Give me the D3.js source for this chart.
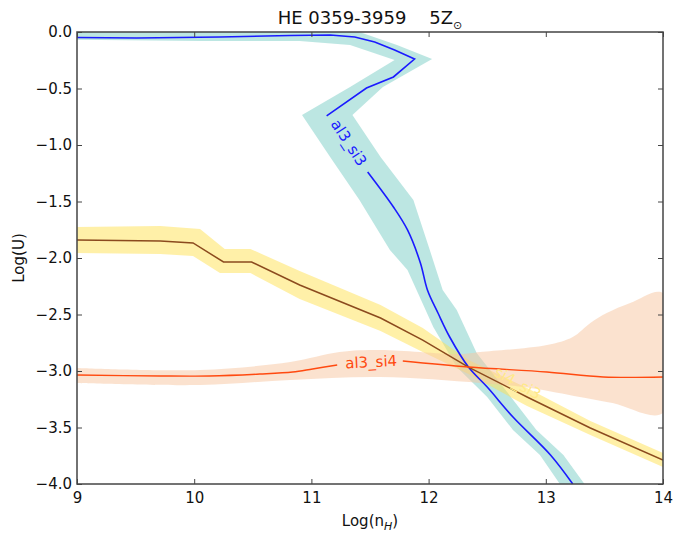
<!DOCTYPE html>
<html>
<head>
<meta charset="utf-8">
<script src="https://cdn.jsdelivr.net/npm/d3@7"></script>
<style>
    body { margin: 0; background: #fff; }
    text { font-family: "DejaVu Sans", sans-serif; }
</style>
</head>
<body>
<div id="chartholder"></div>
<script>
// al3_si3 contour (blue), the line is broken after index al3si3Gap for its label
var al3si3X = [9.00, 9.51, 10.22, 10.82, 11.16, 11.37, 11.54, 11.71, 11.88, 11.70, 11.47, 11.13,
               11.48, 11.70, 11.82, 11.93, 11.99, 12.08, 12.18, 12.34, 12.50, 12.72, 13.04, 13.23];
var al3si3Y = [-0.049, -0.053, -0.044, -0.031, -0.027, -0.044, -0.088, -0.159, -0.239, -0.398, -0.496, -0.743,
               -1.239, -1.549, -1.752, -2.044, -2.283, -2.487, -2.699, -2.965, -3.142, -3.407, -3.743, -4.0];
var al3si3Gap = 11;
// outline of the al3_si3 uncertainty band
var al3si3BandX = [9.00, 11.16, 11.44, 11.73, 12.03, 11.61, 11.35, 11.59, 11.87, 12.01, 12.12, 12.24, 12.41, 12.61,
                   12.92, 13.15, 13.33, 13.33, 13.12, 13.12, 12.95, 12.72, 12.50, 12.24, 12.04, 11.82, 11.67, 11.41,
                   11.16, 10.92, 11.33, 11.71, 11.33, 10.90, 10.05, 9.00];
var al3si3BandY = [0.05, 0.05, -0.01, -0.115, -0.239, -0.487, -0.735, -1.106, -1.487, -1.929, -2.283, -2.46, -2.84, -3.106,
                   -3.522, -3.743, -4.0, -4.1, -4.1, -4.0, -3.743, -3.522, -3.23, -2.965, -2.611, -2.106, -1.929, -1.487,
                   -1.106, -0.735, -0.487, -0.248, -0.115, -0.08, -0.08, -0.068];

// si4_si3 contour (brown line, yellow band)
var si4si3X = [9.00, 9.71, 9.99, 10.25, 10.49, 10.90, 11.59, 11.95, 12.34, 12.84, 13.38, 14.00];
var si4si3Y = [-1.841, -1.850, -1.867, -2.035, -2.035, -2.239, -2.531, -2.726, -2.965, -3.230, -3.504, -3.788];
var si4si3UpperX = [9.00, 9.71, 10.05, 10.26, 10.48, 10.90, 11.59, 11.95, 12.34, 12.84, 13.38, 14.00];
var si4si3UpperY = [-1.726, -1.717, -1.743, -1.920, -1.920, -2.115, -2.416, -2.619, -2.903, -3.150, -3.442, -3.726];
var si4si3LowerX = [9.00, 9.71, 9.99, 10.22, 10.48, 10.90, 11.59, 11.95, 12.34, 12.84, 13.38, 14.00];
var si4si3LowerY = [-1.956, -1.965, -1.982, -2.133, -2.133, -2.363, -2.646, -2.832, -3.027, -3.310, -3.566, -3.850];

// al3_si4 contour (orange), broken after index al3si4Gap for its label
var al3si4X = [9.00, 9.71, 10.13, 10.56, 10.84, 11.01, 11.22, 11.78, 12.34, 13.01, 13.49, 14.00];
var al3si4Y = [-3.035, -3.044, -3.044, -3.027, -3.009, -2.982, -2.947, -2.912, -2.965, -3.009, -3.053, -3.053];
var al3si4Gap = 6;
var al3si4UpperX = [9.00, 10.05, 10.82, 11.24, 11.59, 12.27, 12.44, 13.01, 13.23, 13.38, 13.52, 13.72, 14.00];
var al3si4UpperY = [-2.973, -2.991, -2.920, -2.832, -2.814, -2.850, -2.832, -2.770, -2.699, -2.575, -2.487, -2.398, -2.310];
var al3si4LowerX = [9.00, 10.05, 10.82, 11.59, 12.44, 12.87, 13.29, 13.57, 14.00];
var al3si4LowerY = [-3.106, -3.124, -3.080, -3.053, -3.106, -3.150, -3.230, -3.283, -3.372];

// inline contour labels: text, x, y, angle
var labelText = ['al3_si3', 'al3_si4', 'si4_si3'];
var labelX = [11.32, 11.51, 12.76];
var labelY = [-0.98, -2.92, -3.106];
var labelAngle = [57, -3, 29];
var labelColor = ['#1a1aff', '#ff4a10', '#ffe98a'];

var xTicks = [9, 10, 11, 12, 13, 14];
var yTicks = [0.0, -0.5, -1.0, -1.5, -2.0, -2.5, -3.0, -3.5, -4.0];

function zip(xs, ys) {
    return xs.map(function (x, i) { return [x, ys[i]]; });
}

function makeChart() {
    var margin = {top: 32, right: 14, bottom: 51, left: 77};
    var totalWidth = 677, totalHeight = 535;
    var width = totalWidth - margin.left - margin.right;
    var height = totalHeight - margin.top - margin.bottom;

    var svg = d3.select('#chartholder').append('svg')
        .attr('width', totalWidth)
        .attr('height', totalHeight);

    svg.append('defs').append('clipPath').attr('id', 'plotclip')
        .append('rect').attr('width', width).attr('height', height);

    var canvas = svg.append('g')
        .attr('transform', 'translate(' + margin.left + ',' + margin.top + ')');

    var xScale = d3.scaleLinear().domain([9, 14]).range([0, width]);
    var yScale = d3.scaleLinear().domain([-4, 0]).range([height, 0]);

    var line = d3.line()
        .x(function (d) { return xScale(d[0]); })
        .y(function (d) { return yScale(d[1]); });
    var smooth = d3.line()
        .x(function (d) { return xScale(d[0]); })
        .y(function (d) { return yScale(d[1]); })
        .curve(d3.curveCatmullRom.alpha(0.5));

    var plot = canvas.append('g').attr('clip-path', 'url(#plotclip)');

    // bands
    plot.append('path')
        .attr('d', line(zip(al3si3BandX, al3si3BandY)) + 'Z')
        .style('fill', '#79cdc5').style('fill-opacity', 0.5);
    plot.append('path')
        .attr('d', line(zip(si4si3UpperX, si4si3UpperY).concat(zip(si4si3LowerX, si4si3LowerY).reverse())) + 'Z')
        .style('fill', '#ffe151').style('fill-opacity', 0.5);
    plot.append('path')
        .attr('d', smooth(zip(al3si4UpperX, al3si4UpperY).concat(zip(al3si4LowerX, al3si4LowerY).reverse())) + 'Z')
        .style('fill', '#f7c59f').style('fill-opacity', 0.5);

    // lines
    var blue = zip(al3si3X, al3si3Y);
    plot.append('path').attr('d', line(blue.slice(0, al3si3Gap + 1)))
        .style('fill', 'none').style('stroke', '#1a1aff').style('stroke-width', 1.6);
    plot.append('path').attr('d', smooth(blue.slice(al3si3Gap + 1)))
        .style('fill', 'none').style('stroke', '#1a1aff').style('stroke-width', 1.6);
    plot.append('path').attr('d', line(zip(si4si3X, si4si3Y)))
        .style('fill', 'none').style('stroke', '#8b4a1e').style('stroke-width', 1.5);
    var orange = zip(al3si4X, al3si4Y);
    [orange.slice(0, al3si4Gap + 1), orange.slice(al3si4Gap + 1)].forEach(function (seg) {
        plot.append('path').attr('d', smooth(seg))
            .style('fill', 'none').style('stroke', '#ff4a10').style('stroke-width', 1.4);
    });

    // contour labels
    labelText.forEach(function (t, i) {
        plot.append('text')
            .attr('transform', 'translate(' + xScale(labelX[i]) + ',' + yScale(labelY[i]) + ') rotate(' + labelAngle[i] + ')')
            .attr('text-anchor', 'middle')
            .attr('dy', '0.35em')
            .style('font-size', '15px')
            .style('fill', labelColor[i])
            .text(t);
    });

    // axes, ticks inward on all four sides
    var fmtY = d3.format('.1f');
    canvas.append('g').attr('transform', 'translate(0,' + height + ')')
        .call(d3.axisBottom(xScale).tickValues(xTicks).tickFormat(d3.format('d'))
            .tickSizeInner(-5).tickSizeOuter(0).tickPadding(8));
    canvas.append('g')
        .call(d3.axisLeft(yScale).tickValues(yTicks).tickFormat(fmtY)
            .tickSizeInner(-5).tickSizeOuter(0).tickPadding(5));
    canvas.append('g')
        .call(d3.axisTop(xScale).tickValues(xTicks).tickFormat('')
            .tickSizeInner(-5).tickSizeOuter(0));
    canvas.append('g').attr('transform', 'translate(' + width + ',0)')
        .call(d3.axisRight(yScale).tickValues(yTicks).tickFormat('')
            .tickSizeInner(-5).tickSizeOuter(0));

    canvas.selectAll('.domain').remove();
    canvas.selectAll('.tick line').style('stroke', '#444');
    canvas.selectAll('.tick text').style('font-size', '15px').style('font-family', '"DejaVu Sans", sans-serif').style('fill', '#111');

    canvas.append('rect')
        .attr('width', width).attr('height', height)
        .style('fill', 'none').style('stroke', '#444').style('stroke-width', 1.5);

    // title and axis labels
    var title = svg.append('text')
        .attr('x', margin.left + width / 2).attr('y', 24)
        .attr('text-anchor', 'middle')
        .style('font-size', '18px').style('fill', '#111')
        .attr('xml:space', 'preserve');
    title.append('tspan').text('HE 0359-3959    5Z');
    title.append('tspan').attr('dy', 5).style('font-size', '11px').text('\u2299');

    var xl = svg.append('text')
        .attr('x', margin.left + width / 2).attr('y', 526)
        .attr('text-anchor', 'middle')
        .style('font-size', '15px').style('fill', '#111');
    xl.append('tspan').text('Log(n');
    xl.append('tspan').attr('dy', 4).style('font-size', '11px').style('font-style', 'italic').text('H');
    xl.append('tspan').attr('dy', -4).text(')');

    svg.append('text')
        .attr('transform', 'translate(24,' + (margin.top + height / 2) + ') rotate(-90)')
        .attr('text-anchor', 'middle')
        .style('font-size', '15px').style('fill', '#111')
        .text('Log(U)');
}

makeChart();
</script>
</body>
</html>
